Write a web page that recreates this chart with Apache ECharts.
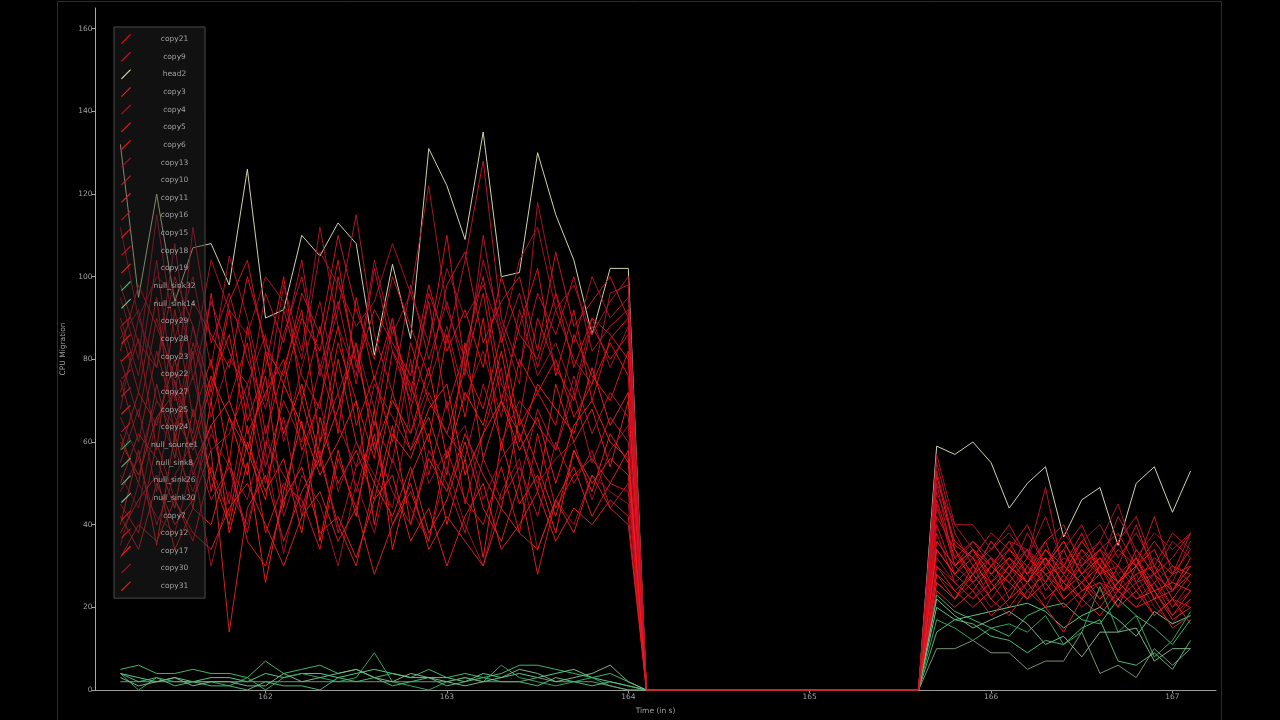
<!DOCTYPE html>
<html>
<head>
<meta charset="utf-8">
<script src="https://cdn.jsdelivr.net/npm/echarts@6/dist/echarts.min.js"></script>
<style>
html,body{margin:0;padding:0;background:#000;}
#c{width:1280px;height:720px;}
</style>
</head>
<body>
<div id="c"></div>
<script>
// ---- time stamps (seconds) ----
const times1 = [161.2,161.3,161.4,161.5,161.6,161.7,161.8,161.9,162.0,162.1,162.2,162.3,162.4,162.5,162.6,162.7,162.8,162.9,163.0,163.1,163.2,163.3,163.4,163.5,163.6,163.7,163.8,163.9,164.0];
const zeroTimes = [164.1,165.6];
const zeroVals = [0,0];
const times2 = [165.7,165.8,165.9,166.0,166.1,166.2,166.3,166.4,166.5,166.6,166.7,166.8,166.9,167.0,167.1];

// ---- tick labels ----
const xTicks = [162,163,164,165,166,167];
const yTicks = [0,20,40,60,80,100,120,140,160];

// ---- series values (first burst A, second burst B) ----
const copy21A = [88,72,95,60,84,70,92,65,78,100,70,88,62,95,75,90,68,84,110,78,96,70,88,102,76,92,70,85,90];
const copy21B = [45,30,34,26,32,28,36,24,30,34,26,32,22,28,30];
const copy9A  = [55,68,48,75,52,64,45,70,50,66,42,60,72,48,65,55,80,52,70,45,62,78,50,68,58,72,55,66,60];
const copy9B  = [38,26,30,22,28,34,24,30,26,22,30,24,28,20,26];
const head2A  = [132,95,120,94,107,108,98,126,90,92,110,105,113,108,81,103,85,131,122,109,135,100,101,130,115,104,86,102,102];
const head2B  = [59,57,60,55,44,50,54,37,46,49,35,50,54,43,53];
const copy3A  = [40,58,35,62,44,70,38,55,26,48,65,36,58,42,68,34,52,62,40,56,32,60,45,52,38,58,48,62,55];
const copy3B  = [52,34,28,36,30,26,34,28,36,30,24,34,28,24,32];
const copy4A  = [95,80,115,85,100,78,105,90,70,98,82,112,88,76,104,86,96,122,92,80,104,88,74,118,96,84,100,90,95];
const copy4B  = [57,40,40,34,38,32,42,30,36,40,32,38,30,26,36];
const copy5A  = [62,50,74,56,82,48,66,58,76,44,70,54,80,60,50,72,58,66,52,84,56,70,62,48,74,60,68,54,70];
const copy5B  = [30,24,28,32,22,30,26,34,24,28,20,30,24,18,24];
const copy6A  = [72,85,58,92,66,80,55,88,62,78,92,60,84,70,56,82,74,60,86,66,90,58,80,72,64,86,76,70,82];
const copy6B  = [42,34,26,30,36,28,32,26,34,28,36,26,32,28,34];
const copy13A = [35,50,42,38,55,30,48,40,58,33,52,45,30,50,38,56,44,36,54,40,30,48,56,34,46,40,52,48,45];
const copy13B = [26,22,26,20,24,28,22,26,20,24,22,28,20,16,22];
const copy10A = [80,66,90,74,62,96,70,84,58,92,76,68,100,80,64,88,72,94,68,82,100,74,66,90,78,70,88,80,86];
const copy10B = [48,36,32,28,34,40,30,36,28,34,30,40,28,32,38];
const copy11A = [50,62,56,44,68,52,40,60,48,56,38,66,50,58,46,64,40,56,48,62,52,44,66,54,42,58,50,56,52];
const copy11B = [34,28,24,30,26,22,30,24,28,22,26,30,22,24,28];
const copy16A = [68,90,78,108,75,94,82,70,96,84,104,76,92,115,86,72,98,80,94,76,110,84,96,78,92,80,74,96,98];
const copy16B = [50,30,36,32,28,38,30,34,40,30,42,34,28,36,32];
const copy15A = [45,38,60,46,36,54,42,64,38,50,46,34,56,44,62,40,48,36,58,46,40,54,38,62,44,52,56,50,48];
const copy15B = [28,22,30,26,20,26,32,22,26,30,22,26,18,22,20];
const copy18A = [90,76,104,70,112,84,96,80,68,86,100,78,94,74,102,82,70,96,84,104,128,90,78,96,86,100,82,88,92];
const copy18B = [55,38,30,34,40,32,49,28,34,30,36,42,30,38,34];
const copy19A = [58,72,64,80,60,76,66,52,82,62,74,56,68,84,58,70,62,78,56,72,64,82,60,74,68,62,78,64,72];
const copy19B = [36,30,34,28,32,26,30,36,28,32,26,30,34,24,30];
const nullSink32A = [5,6,4,4,5,4,4,3,7,4,5,6,4,5,3,4,3,5,3,4,3,4,6,6,5,4,3,4,2];
const nullSink32B = [23,19,17,15,13,18,20,21,17,16,22,18,15,11,17];
const nullSink14A = [4,3,2,3,2,3,3,2,4,3,4,4,3,4,5,4,3,3,3,2,4,3,4,3,4,5,3,2,1];
const nullSink14B = [20,17,18,19,20,21,19,15,18,20,17,13,19,16,18];
const copy29A = [85,92,70,62,88,66,80,74,86,60,78,94,72,84,68,90,62,74,88,70,82,66,92,76,84,72,90,78,88];
const copy29B = [44,32,28,36,30,34,26,32,30,36,28,32,26,30,26];
const copy28A = [42,34,50,40,46,58,14,44,52,36,48,56,40,30,50,42,54,38,46,60,44,36,50,28,46,54,42,50,58];
const copy28B = [24,20,24,18,22,26,20,14,22,18,24,20,22,15,18];
const copy23A = [75,60,82,66,58,74,86,62,72,80,58,70,88,64,76,60,84,70,62,78,68,86,64,72,80,66,74,84,76];
const copy23B = [40,28,34,30,26,32,28,30,26,32,24,28,30,22,28];
const copy22A = [52,44,66,58,48,62,54,46,64,42,56,70,48,60,52,44,68,50,58,64,46,56,62,50,56,60,46,58,64];
const copy22B = [32,26,22,28,24,30,22,26,30,24,28,22,26,20,24];
const copy27A = [98,84,78,100,88,72,94,104,82,76,96,86,110,92,80,100,88,76,98,106,84,94,100,82,106,88,94,100,90];
const copy27B = [53,35,32,38,34,30,36,40,30,34,38,30,42,28,38];
const copy25A = [38,46,52,34,44,40,56,36,30,46,54,38,42,32,46,52,36,44,30,42,50,34,40,48,36,44,40,46,42];
const copy25B = [28,24,20,24,28,22,26,20,24,26,20,24,18,22,16];
const copy24A = [66,56,70,64,76,58,62,74,54,70,60,78,64,54,74,66,58,72,62,56,74,60,70,64,58,76,62,72,66];
const copy24B = [36,30,26,32,28,34,28,24,32,28,30,26,28,24,30];
const nullSource1A = [4,0,3,2,2,2,1,3,0,3,4,3,2,3,9,2,1,0,2,3,2,6,3,2,1,2,3,1,0];
const nullSource1B = [17,15,12,15,16,14,18,11,14,25,14,18,8,12,19];
const nullSink8A = [2,2,2,2,2,2,2,2,2,2,2,2,2,2,2,2,2,2,2,3,2,2,2,3,2,2,2,1,0];
const nullSink8B = [10,10,12,9,9,5,7,7,14,4,6,3,10,6,10];
const nullSink26A = [4,2,3,1,2,1,1,0,2,1,1,0,3,2,3,1,2,3,1,2,3,2,2,1,3,2,1,2,1];
const nullSink26B = [14,17,16,13,12,9,12,11,15,17,7,6,9,5,12];
const nullSink20A = [3,1,2,3,1,2,2,1,1,4,2,3,4,5,3,2,4,3,2,1,2,3,5,4,2,3,4,6,2];
const nullSink20B = [22,18,15,17,19,16,11,13,8,14,14,15,7,10,10];
const copy7A  = [82,98,88,76,94,86,78,100,84,74,90,82,104,78,92,84,76,98,82,92,78,100,86,80,96,78,90,86,80];
const copy7B  = [46,32,36,30,34,28,34,30,38,28,34,30,36,30,28];
const copy12A = [48,56,40,52,60,46,54,38,60,52,44,58,38,54,60,48,40,58,50,38,56,46,54,42,60,50,58,44,50];
const copy12B = [30,26,22,26,30,24,20,28,22,26,24,20,26,18,22];
const copy17A = [60,52,66,72,54,64,70,58,46,74,64,52,60,70,40,62,56,68,74,52,62,70,58,66,50,64,70,60,56];
const copy17B = [34,28,32,24,30,26,32,26,22,30,26,32,24,26,24];
const copy30A = [112,90,100,96,80,104,92,86,100,94,80,106,98,88,94,108,96,84,102,90,98,86,104,112,92,98,86,94,100];
const copy30B = [50,40,34,30,36,34,30,38,32,36,45,32,38,34,38];
const copy31A = [32,40,36,46,38,34,44,50,40,30,42,48,36,44,28,40,50,34,42,36,30,44,38,34,46,38,52,44,40];
const copy31B = [26,22,28,22,18,24,28,22,26,20,26,22,24,17,20];

// legend order
const seriesNames = ['copy21','copy9','head2','copy3','copy4','copy5','copy6','copy13','copy10','copy11','copy16','copy15','copy18','copy19','null_sink32','null_sink14','copy29','copy28','copy23','copy22','copy27','copy25','copy24','null_source1','null_sink8','null_sink26','null_sink20','copy7','copy12','copy17','copy30','copy31'];
const seriesA = [copy21A,copy9A,head2A,copy3A,copy4A,copy5A,copy6A,copy13A,copy10A,copy11A,copy16A,copy15A,copy18A,copy19A,nullSink32A,nullSink14A,copy29A,copy28A,copy23A,copy22A,copy27A,copy25A,copy24A,nullSource1A,nullSink8A,nullSink26A,nullSink20A,copy7A,copy12A,copy17A,copy30A,copy31A];
const seriesB = [copy21B,copy9B,head2B,copy3B,copy4B,copy5B,copy6B,copy13B,copy10B,copy11B,copy16B,copy15B,copy18B,copy19B,nullSink32B,nullSink14B,copy29B,copy28B,copy23B,copy22B,copy27B,copy25B,copy24B,nullSource1B,nullSink8B,nullSink26B,nullSink20B,copy7B,copy12B,copy17B,copy30B,copy31B];

// ---- styling ----
const reds = ['#e8101a','#c8102e','#ff1a1a','#b0122a','#dd2222','#f01010','#a8102a','#d41424','#ee1c1c','#bb1530'];
const greens = {'null_sink32':'#3fbf6f','null_sink14':'#5fcf8f','null_source1':'#2fae62','null_sink8':'#7a9a7a','null_sink26':'#4cc07c','null_sink20':'#86b890'};
const headColor = '#dcdcb0';
const FONT = 'DejaVu Sans';

const times = times1.concat(zeroTimes, times2);
let redIdx = 0;
const series = seriesNames.map((name, i) => {
  const vals = seriesA[i].concat(zeroVals, seriesB[i]);
  let color;
  if (name === 'head2') { color = headColor; }
  else if (greens[name]) { color = greens[name]; }
  else { color = reds[redIdx % reds.length]; redIdx++; }
  return {
    name: name,
    type: 'line',
    data: times.map((t, k) => [t, vals[k]]),
    showSymbol: false,
    symbol: 'none',
    z: 2,
    color: color,
    lineStyle: { color: color, width: 1, opacity: 0.95 },
    itemStyle: { color: color },
    emphasis: { disabled: true },
    animation: false
  };
});

const chart = echarts.init(document.getElementById('c'), null, { renderer: 'canvas' });
chart.setOption({
  backgroundColor: '#000000',
  animation: false,
  textStyle: { fontFamily: FONT },
  graphic: [{
    type: 'rect',
    shape: { x: 57.5, y: 1.5, width: 1164, height: 722 },
    style: { fill: 'none', stroke: '#2c2c2c', lineWidth: 1 },
    silent: true, z: -10
  }],
  grid: { left: 95, right: 64, top: 8, bottom: 29.5, containLabel: false },
  xAxis: {
    type: 'value',
    min: 161.06,
    max: 167.24,
    name: 'Time (in s)',
    nameLocation: 'middle',
    nameGap: 17,
    nameTextStyle: { color: '#a0a0a0', fontSize: 7.5, fontFamily: FONT },
    axisLine: { show: true, lineStyle: { color: '#9a9a9a', width: 1 } },
    axisTick: { show: true, length: 3, customValues: xTicks, lineStyle: { color: '#9a9a9a' } },
    axisLabel: { show: true, customValues: xTicks, color: '#a0a0a0', fontSize: 7.5, margin: 3, fontFamily: FONT },
    splitLine: { show: false }
  },
  yAxis: {
    type: 'value',
    min: 0,
    max: 165,
    name: 'CPU Migration',
    nameLocation: 'middle',
    nameGap: 14,
    nameRotate: 90,
    nameTextStyle: { color: '#a0a0a0', fontSize: 7.5, fontFamily: FONT },
    axisLine: { show: true, lineStyle: { color: '#a8a8a8', width: 1 } },
    axisTick: { show: true, length: 3, customValues: yTicks, lineStyle: { color: '#a8a8a8' } },
    axisLabel: { show: true, customValues: yTicks, color: '#a0a0a0', fontSize: 7.5, margin: 2.5, fontFamily: FONT },
    splitLine: { show: false }
  },
  legend: {
    show: true,
    orient: 'vertical',
    left: 114,
    top: 27,
    padding: [7, 7, 7, 7],
    itemGap: 7.65,
    itemWidth: 10,
    itemHeight: 10,
    icon: 'path://M0,10 L9.2,0.8 L10,1.6 L0.8,10.8 Z',
    backgroundColor: 'rgba(38,38,38,0.45)',
    borderColor: '#4a4a4a',
    borderWidth: 1,
    selectedMode: false,
    data: seriesNames,
    formatter: function (n) { return '{a|' + n + '}'; },
    textStyle: {
      color: '#a0a0a0', fontSize: 7.5, fontFamily: FONT, lineHeight: 10,
      rich: { a: { color: '#a0a0a0', fontSize: 7.5, fontFamily: FONT, lineHeight: 10, width: 47, align: 'center', padding: [0, 0, 0, 15] } }
    }
  },
  series: series
});
</script>
</body>
</html>
